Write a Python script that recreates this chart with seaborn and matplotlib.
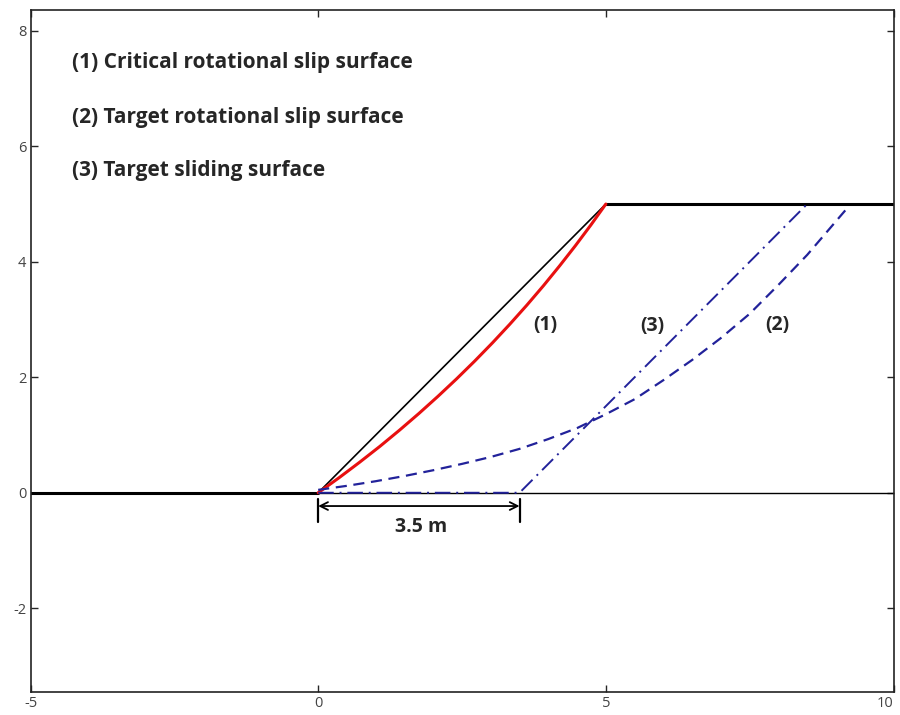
import matplotlib
matplotlib.use("Agg")
import matplotlib.pyplot as plt
import seaborn as sns

# slope geometry
ground_left_x = [-5, 0]
ground_left_y = [0, 0]
ground_toe_x = [0, 10]
ground_toe_y = [0, 0]
slope_x = [0, 5]
slope_y = [0, 5]
crest_x = [5, 10]
crest_y = [5, 5]

# (1) critical rotational slip surface
crit_x = [0, 0.364, 0.721, 1.072, 1.415, 1.752, 2.081, 2.404, 2.72,
          3.029, 3.331, 3.627, 3.915, 4.196, 4.471, 4.739, 5.0]
crit_y = [0, 0.261, 0.529, 0.803, 1.085, 1.374, 1.669, 1.971, 2.28,
          2.596, 2.919, 3.249, 3.585, 3.929, 4.279, 4.636, 5.0]

# (2) target rotational slip surface
rot_x = [0, 0.5, 1.0, 1.5, 2.0, 2.5, 3.0, 3.5, 4.0, 4.5, 5.0, 5.5, 6.0,
         6.5, 7.0, 7.5, 8.0, 8.5, 9.17]
rot_y = [0.05, 0.12, 0.20, 0.29, 0.39, 0.50, 0.62, 0.76, 0.93, 1.12, 1.36,
         1.62, 1.95, 2.30, 2.68, 3.10, 3.60, 4.12, 4.90]

# (3) target sliding surface
slide_x = [0, 3.5, 8.5]
slide_y = [0, 0, 5]

labels = ["(1) Critical rotational slip surface",
          "(2) Target rotational slip surface",
          "(3) Target sliding surface"]
label_y = [7.45, 6.49, 5.58]

curve_tags = ["(1)", "(3)", "(2)"]
tag_x = [3.95, 5.81, 7.98]
tag_y = [2.91, 2.89, 2.91]

sns.set_style("ticks")
plt.rcParams["font.family"] = ["Open Sans", "DejaVu Sans"]
plt.rcParams["axes.unicode_minus"] = False

fig = plt.figure(figsize=(9, 7.15), dpi=100)
ax = fig.add_axes([0.0339, 0.0322, 0.9589, 0.9538])

blue = "#22229a"
sns.lineplot(x=ground_left_x, y=ground_left_y, color="black", lw=2.2, ax=ax)
sns.lineplot(x=ground_toe_x, y=ground_toe_y, color="black", lw=1.0, ax=ax)
sns.lineplot(x=slope_x, y=slope_y, color="black", lw=1.2, ax=ax)
sns.lineplot(x=crest_x, y=crest_y, color="black", lw=2.2, ax=ax)
sns.lineplot(x=crit_x, y=crit_y, color="#e81010", lw=2.2, sort=False, ax=ax)
sns.lineplot(x=rot_x, y=rot_y, color=blue, lw=1.6, sort=False,
             linestyle=(0, (5, 3)), ax=ax)
sns.lineplot(x=slide_x, y=slide_y, color=blue, lw=1.4, sort=False,
             linestyle=(0, (8, 3, 1, 3)), ax=ax)

# dimension arrow 3.5 m
ax.annotate("", xy=(3.5, -0.23), xytext=(0, -0.23),
            arrowprops=dict(arrowstyle="<->", color="black", lw=1.3,
                            shrinkA=0, shrinkB=0, mutation_scale=14))
for xb in [0, 3.5]:
    ax.plot([xb, xb], [-0.1, -0.5], color="black", lw=1.6)
ax.text(1.79, -0.6, "3.5 m", ha="center", va="center",
        fontsize=14, fontweight="bold")

for t, yy in zip(labels, label_y):
    ax.text(-4.28, yy, t, ha="left", va="center", fontsize=15,
            fontweight="bold")
for t, xx, yy in zip(curve_tags, tag_x, tag_y):
    ax.text(xx, yy, t, ha="center", va="center", fontsize=14,
            fontweight="bold")

ax.set_xlim(-5, 10)
ax.set_ylim(-3.45, 8.36)
ax.set_xticks([-5, 0, 5, 10])
ax.set_yticks([-2, 0, 2, 4, 6, 8])
ax.tick_params(direction="in", length=5, width=1, top=True, right=True,
               labelsize=10.5, labelcolor="#444444", pad=3)
ax.get_xticklabels()[-1].set_ha("right")
for s in ax.spines.values():
    s.set_visible(True)
    s.set_linewidth(1.2)
    s.set_color("#222222")

fig.savefig("out.png", dpi=100)
